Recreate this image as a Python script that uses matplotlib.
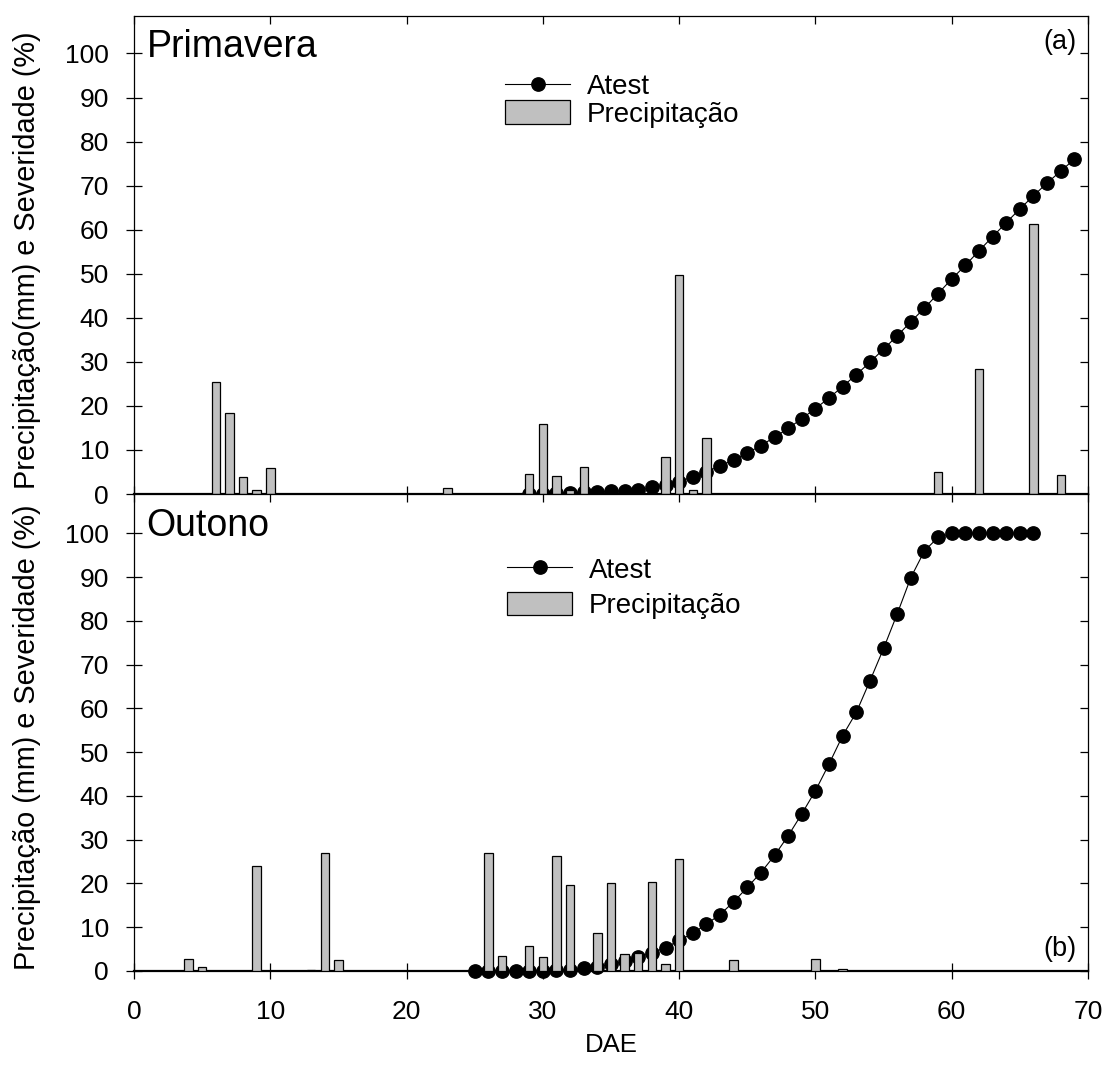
import matplotlib
matplotlib.use('Agg')
import matplotlib.pyplot as plt
from matplotlib.lines import Line2D
from matplotlib.patches import Patch

plt.rcParams['font.family'] = ['Liberation Sans', 'DejaVu Sans']

# ---------------- data ----------------
# Panel (a) Primavera
atest_days_a = list(range(29, 70))
atest_a = [0.0, 0.1, 0.2, 0.3, 0.4, 0.5, 0.6, 0.7, 0.8, 1.5,
           2.0, 2.8, 3.9, 5.1, 6.3, 7.8, 9.3, 11.0, 12.9, 14.9,
           17.1, 19.4, 21.8, 24.4, 27.1, 29.9, 32.9, 35.9, 39.1, 42.2,
           45.5, 48.8, 51.9, 55.2, 58.4, 61.6, 64.7, 67.7, 70.6, 73.3, 76.0]
rain_days_a = [6, 7, 8, 9, 10, 23, 29, 30, 31, 32, 33, 39, 40, 41, 42, 59, 62, 66, 68]
rain_a = [25.5, 18.3, 3.9, 1.0, 5.9, 1.3, 4.6, 16.0, 4.0, 0.8, 6.2, 8.4, 49.7, 0.8,
          12.6, 4.9, 28.4, 61.2, 4.4]

# Panel (b) Outono
atest_days_b = list(range(25, 67))
atest_b = [0.0, 0.0, 0.0, 0.0, 0.0, 0.1, 0.2, 0.3, 0.6, 1.0,
           1.5, 2.2, 3.1, 4.2, 5.3, 7.0, 8.6, 10.7, 12.9, 15.8,
           19.1, 22.5, 26.4, 30.9, 35.9, 41.2, 47.3, 53.8, 59.1, 66.3,
           73.7, 81.6, 89.9, 96.0, 99.1, 100.0, 100.0, 100.0, 100.0, 100.0,
           100.0, 100.0]
rain_days_b = [4, 5, 9, 13, 14, 15, 26, 27, 29, 30, 31, 32, 34, 35, 36, 37, 38, 39, 40,
               44, 50, 52]
rain_b = [2.7, 0.9, 24.0, 0.3, 27.0, 2.4, 27.0, 3.4, 5.7, 3.2, 26.3, 19.6, 8.7, 20.0,
          3.9, 4.0, 20.4, 1.6, 25.5, 2.4, 2.7, 0.4]

panel_titles = ['Primavera', 'Outono']
panel_tags = ['(a)', '(b)']
ylabels = ['Precipitação(mm) e Severidade (%)', 'Precipitação (mm) e Severidade (%)']
legend_labels = ['Atest', 'Precipitação']
xticks = [0, 10, 20, 30, 40, 50, 60, 70]
yticks = [0, 10, 20, 30, 40, 50, 60, 70, 80, 90, 100]
xlabel = 'DAE'

# ---------------- figure ----------------
W, H = 1106, 1075
fig = plt.figure(figsize=(W / 100, H / 100), dpi=100)

left = 134 / W
width = (1088 - 134) / W
ax_a = fig.add_axes([left, 1 - 494 / H, width, (494 - 16) / H])
ax_b = fig.add_axes([left, 1 - 971 / H, width, (971 - 494) / H])

TICK_FS = 19
LEG_FS = 20
LAB_FS = 20.8
bar_color = '#c0c0c0'

panels = [
    (ax_a, atest_days_a, atest_a, rain_days_a, rain_a, 108.5, (0.389, 0.880), 0.0),
    (ax_b, atest_days_b, atest_b, rain_days_b, rain_b, 109.0, (0.391, 0.869), 0.3),
]

for i, (ax, ad, av, rd, rv, ytop, lpos, lspace) in enumerate(panels):
    ax.plot(ad, av, color='black', lw=0.8, marker='o', markersize=9.6,
            markerfacecolor='black', markeredgecolor='black', zorder=2, clip_on=False)
    ax.bar(rd, rv, width=0.62, color=bar_color, edgecolor='black', linewidth=0.9, zorder=3)
    ax.set_xlim(0, 70)
    ax.set_ylim(0, ytop)
    ax.set_xticks(xticks)
    ax.set_yticks(yticks)
    ax.tick_params(axis='y', which='both', left=True, right=True, labelsize=TICK_FS)
    ax.tick_params(axis='y', which='both', direction='inout', length=12, width=0.9, pad=12)
    ax.tick_params(axis='x', which='both', top=True, labelsize=TICK_FS)
    for s in ['left', 'right', 'top']:
        ax.spines[s].set_linewidth(0.9)
    ax.spines['bottom'].set_linewidth(1.6)
    ax.set_ylabel(ylabels[i], fontsize=LAB_FS)
    ax.yaxis.set_label_coords(-0.097, 0.49)
    ax.text(0.0133, 0.915 if i == 0 else 0.912, panel_titles[i], transform=ax.transAxes,
            fontsize=27, ha='left', va='baseline')
    ax.text(0.988, 0.945 if i == 0 else 0.046, panel_tags[i], transform=ax.transAxes,
            fontsize=19.5, ha='right', va='center')
    handles = [Line2D([], [], color='black', lw=0.8, marker='o', markersize=9.6),
               Patch(facecolor=bar_color, edgecolor='black', linewidth=0.9)]
    ax.legend(handles, legend_labels, loc='upper left', bbox_to_anchor=lpos,
              frameon=False, borderpad=0, borderaxespad=0, handlelength=2.34,
              handleheight=0.9, handletextpad=0.61, labelspacing=lspace, fontsize=LEG_FS)

# right ticks inward
for ax in (ax_a, ax_b):
    for t in ax.yaxis.get_major_ticks():
        t.tick2line.set_marker(0)  # TICKLEFT: inward on right spine
        t.tick2line.set_markersize(6)

# x axis of top panel: inward ticks, no labels
ax_a.tick_params(axis='x', direction='in', length=6, width=0.9, labelbottom=False)
for t in ax_a.xaxis.get_major_ticks():
    t.tick2line.set_marker(3)
    t.tick2line.set_markersize(6)

ax_b.tick_params(axis='x', direction='inout', length=12, width=0.9, pad=15)
for t in ax_b.xaxis.get_major_ticks():
    t.tick2line.set_marker(3)
    t.tick2line.set_markersize(6)
ax_b.set_xlabel(xlabel, fontsize=18.5)
ax_b.xaxis.set_label_coords(0.5, -0.13)

fig.savefig('out.png', dpi=100)
